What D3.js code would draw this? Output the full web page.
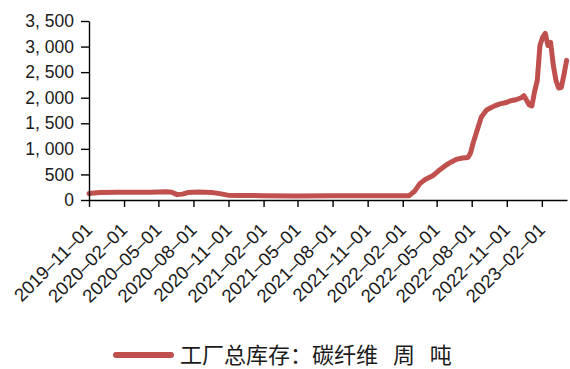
<!DOCTYPE html>
<html>
<head>
<meta charset="utf-8">
<script src="https://cdn.jsdelivr.net/npm/d3@7/dist/d3.min.js"></script>
<style>
  html, body { margin: 0; padding: 0; background: #fff; }
  svg { display: block; }
</style>
</head>
<body>
<svg id="chart" width="570" height="369"></svg>
<script>
// Weekly factory inventory of carbon fibre (tonnes)
const dates = [
  "2019-11-01","2019-11-29","2020-01-17","2020-04-10","2020-05-22","2020-06-05",
  "2020-06-19","2020-07-03","2020-07-17","2020-08-14","2020-09-18","2020-10-09",
  "2020-10-30","2020-11-27","2021-01-29","2021-04-30","2021-07-30","2021-10-29",
  "2022-01-28","2022-02-18",
  "2022-03-04","2022-03-18","2022-04-01","2022-04-22","2022-05-06","2022-05-27",
  "2022-06-10","2022-06-24","2022-07-08","2022-07-22","2022-07-29","2022-08-05",
  "2022-08-19","2022-08-26","2022-09-09","2022-09-30","2022-10-14","2022-10-28",
  "2022-11-11","2022-11-25","2022-12-09","2022-12-16","2022-12-23","2022-12-30",
  "2023-01-06","2023-01-13","2023-01-20","2023-01-27","2023-02-03","2023-02-10",
  "2023-02-17","2023-02-24","2023-03-03","2023-03-10","2023-03-17","2023-03-24",
  "2023-03-31","2023-04-07"
];
const values = [
  125, 145, 150, 150, 160, 150,
  105, 115, 145, 155, 145, 125,
  95, 90, 85, 80, 85, 85,
  85, 85,
  170, 320, 400, 480, 570, 690,
  750, 800, 820, 830, 920, 1120,
  1450, 1620, 1760, 1840, 1880, 1900,
  1940, 1960, 2000, 2040, 1950, 1860,
  1840, 2120, 2340, 3020, 3180, 3260,
  3020, 3080, 2640, 2340, 2190, 2200,
  2450, 2730
];
const yTicks = [0, 500, 1000, 1500, 2000, 2500, 3000, 3500];
const xTickLabels = [
  "2019-11-01","2020-02-01","2020-05-01","2020-08-01","2020-11-01","2021-02-01",
  "2021-05-01","2021-08-01","2021-11-01","2022-02-01","2022-05-01","2022-08-01",
  "2022-11-01","2023-02-01"
];
const seriesName = "工厂总库存：碳纤维 周 吨";
const lineColor = "#c0504d";

const parse = d3.utcParse("%Y-%m-%d");
const data = dates.map((d, i) => ({ date: parse(d), value: values[i] }));

const svg = d3.select("#chart");
const font = "'Liberation Sans', Arial, sans-serif";

const x = d3.scaleUtc()
  .domain([parse("2019-11-01"), parse("2023-04-08")])
  .range([89, 567]);
const y = d3.scaleLinear().domain([0, 3500]).range([200, 21]);

// Series line
svg.append("path")
  .datum(data)
  .attr("fill", "none")
  .attr("stroke", lineColor)
  .attr("stroke-width", 5)
  .attr("stroke-linejoin", "round")
  .attr("stroke-linecap", "round")
  .attr("d", d3.line().x(d => x(d.date)).y(d => y(d.value)));

// Y axis
const fmt = d3.format(",");
const yAxis = svg.append("g")
  .attr("transform", "translate(89,0)")
  .call(d3.axisLeft(y).tickValues(yTicks).tickSize(8).tickSizeOuter(0).tickPadding(7)
    .tickFormat(v => fmt(v).replace(/,/g, ", ")));
yAxis.selectAll("text")
  .attr("font-family", font).attr("font-size", 17.5).attr("fill", "#1a1a1a");

// X axis
const xAxis = svg.append("g")
  .attr("transform", "translate(0,200)")
  .call(d3.axisBottom(x).tickValues(xTickLabels.map(parse)).tickSize(7).tickSizeOuter(0)
    .tickFormat(d => d3.utcFormat("%Y-%m-%d")(d).replace(/-/g, "–")));
xAxis.selectAll("text")
  .attr("font-family", font).attr("font-size", 18.5).attr("fill", "#1a1a1a")
  .attr("text-anchor", "end")
  .attr("dy", 0)
  .attr("y", 0)
  .attr("transform", "translate(4,31) rotate(-45)");

svg.selectAll(".domain, .tick line").attr("stroke", "#000").attr("stroke-width", 1.4);

// Legend
const legend = svg.append("g");
legend.append("line")
  .attr("x1", 116).attr("x2", 171).attr("y1", 355).attr("y2", 355)
  .attr("stroke", lineColor).attr("stroke-width", 6).attr("stroke-linecap", "round");
legend.append("text")
  .attr("x", 180).attr("y", 363)
  .attr("font-family", "'Noto Sans CJK SC', sans-serif")
  .attr("font-size", 22)
  .attr("fill", "#1a1a1a")
  .style("word-spacing", "10px")
  .style("white-space", "pre")
  .text(seriesName);
</script>
</body>
</html>
